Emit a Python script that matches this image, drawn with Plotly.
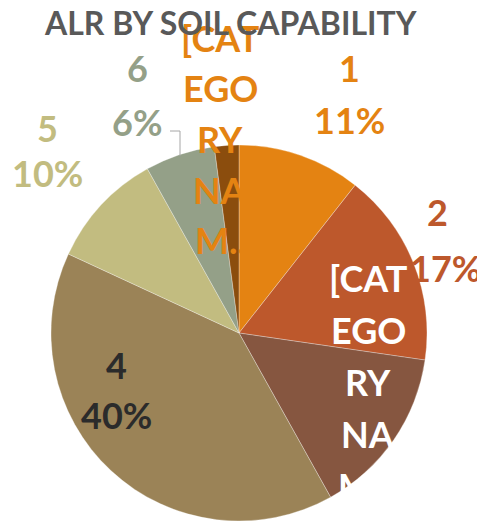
import plotly.graph_objects as go

categories = ["1", "2", "[CATEGORY NAME]", "4", "5", "6", "[CATEGORY NAME]"]
values = [10.6, 16.7, 14.6, 40.0, 10.0, 6.0, 2.1]
colors = ["#E48312", "#BD582C", "#865640", "#9B8357", "#C2BC80", "#94A088", "#8B4D0D"]
label_colors = ["#E48312", "#BD582C", "#FFFFFF", "#2B2B2B", "#C2BC80", "#94A088", "#E48312"]
wrapped_name = ["[CAT", "EGO", "RY", "NA", "M..."]
wrapped_name_small = ["[CAT", "EGO", "RY", "NA", "M.."]

OFF = 8  # page body margin
W, H = 485 - OFF, 525 - OFF
cx, cy, r = 239, 333, 188

def px(x, y):
    return (x - OFF) / W, 1 - (y - OFF) / H

dx0, dy1 = px(cx - r, cy - r)
dx1, dy0 = px(cx + r, cy + r)

fig = go.Figure(go.Pie(
    labels=[f"{c} ({i})" for i, c in enumerate(categories)],
    values=values,
    sort=False,
    direction="clockwise",
    rotation=0,
    marker=dict(colors=colors, line=dict(color="rgba(255,255,255,0.5)", width=0.6)),
    textinfo="none",
    hoverinfo="label+percent",
    showlegend=False,
    domain=dict(x=[dx0, dx1], y=[dy0, dy1]),
))

LABEL_FONT = "Lato, 'Open Sans', sans-serif"
FS = 36
annotations = []

def add_lines(lines, x, y0, dy, color, size=FS):
    for k, t in enumerate(lines):
        xp, yp = px(x, y0 + k * dy)
        annotations.append(dict(x=xp, y=yp, xref="paper", yref="paper", text=f"<b>{t}</b>",
                                showarrow=False, xanchor="center", yanchor="middle",
                                font=dict(family=LABEL_FONT, size=size, color=color)))

pct = [f"{round(v)}%" for v in values]
add_lines([categories[0], pct[0]], 349, 68, 52, label_colors[0])
add_lines([categories[1]], 437, 212, 0, label_colors[1])
add_lines([pct[1]], 445, 268, 0, label_colors[1])
add_lines(wrapped_name, 368, 278, 52, label_colors[2])
add_lines([categories[3], pct[3]], 116, 365, 50, label_colors[3])
add_lines([categories[4], pct[4]], 47, 128, 45, label_colors[4])
add_lines([categories[5], pct[5]], 137, 68, 54, label_colors[5])
add_lines(wrapped_name_small, 220, 38, 50.5, label_colors[6])

tx, ty = px(230, 22)
annotations.append(dict(x=tx, y=ty, xref="paper", yref="paper",
                        text="<b>ALR BY SOIL CAPABILITY</b>", showarrow=False,
                        xanchor="center", yanchor="middle",
                        font=dict(family=LABEL_FONT, size=32, color="#595959")))

x1, y1 = px(170, 131)
x2, y2 = px(180, 131)
x3, y3 = px(180, 156)
shapes = [dict(type="path", xref="paper", yref="paper",
               path=f"M {x1} {y1} L {x2} {y2} L {x3} {y3}",
               line=dict(color="#A6A6A6", width=1))]

fig.update_layout(
    width=W, height=H,
    margin=dict(l=0, r=0, t=0, b=0),
    paper_bgcolor="white",
    plot_bgcolor="white",
    annotations=annotations,
    shapes=shapes,
)

fig.write_html("out.html")
